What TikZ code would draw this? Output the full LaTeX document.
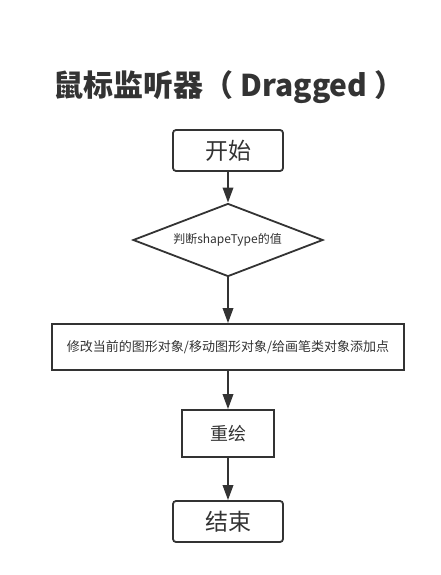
\documentclass[tikz,border=0pt]{standalone}
\usepackage{fontspec}
\setmainfont{Noto Sans CJK SC}
\usetikzlibrary{shapes.geometric,arrows.meta}
\definecolor{ink}{HTML}{333333}
\begin{document}
\begin{tikzpicture}[x=1pt,y=-1pt,
  every node/.style={text=ink},
  box/.style={draw=ink,line width=1.8pt,fill=white,inner sep=0pt,anchor=center},
  term/.style={box,rounded corners=3pt,minimum width=110pt,minimum height=41pt,font=\fontsize{23}{26}\selectfont},
  proc/.style={box,font=\fontsize{13}{15}\selectfont},
  dec/.style={draw=ink,line width=1.8pt,diamond,aspect=2.6,inner sep=0pt,minimum width=190pt,minimum height=73pt,font=\fontsize{12}{14}\selectfont},
  flow/.style={draw=ink,line width=1.8pt,-{Triangle[length=15pt,width=10.5pt]}}]
\useasboundingbox (0,0) rectangle (440,575);
\node[font=\bfseries\fontsize{30}{34}\selectfont] (title) at (229,87) {鼠标监听器（ Dragged ）};
\node[term] (start) at (228,150.5) {开始};
\node[dec] (judge) at (228,240) {};
\node[font=\fontsize{12}{14}\selectfont] (judgetext) at (227.5,240) {判断shapeType的值};
\node[proc,minimum width=352pt,minimum height=46pt] (act) at (228,347) {修改当前的图形对象/移动图形对象/给画笔类对象添加点};
\node[proc,minimum width=92pt,minimum height=47pt,font=\fontsize{18}{20}\selectfont] (redraw) at (228,433.5) {重绘};
\node[term] (end) at (228,521.5) {结束};
\draw[flow] (start) -- (judge);
\draw[flow] (judge) -- (act);
\draw[flow] (act) -- (redraw);
\draw[flow] (redraw) -- (end);
\end{tikzpicture}
\end{document}
